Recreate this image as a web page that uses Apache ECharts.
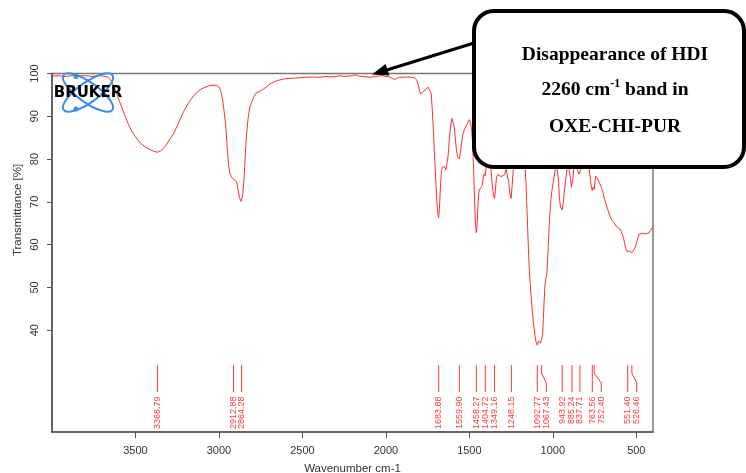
<!DOCTYPE html>
<html>
<head>
<meta charset="utf-8">
<script src="https://cdn.jsdelivr.net/npm/echarts@6/dist/echarts.min.js"></script>
<style>
  html, body { margin: 0; padding: 0; background: #ffffff; }
  #chart { width: 746px; height: 473px; }
</style>
</head>
<body>
<div id="chart"></div>
<script>
// FT-IR spectrum of OXE-CHI-PUR (wavenumber in cm-1, transmittance in %)
const wavenumbers = [
  4000, 3960, 3920, 3880, 3840, 3800, 3760, 3720, 3690, 3670, 3655, 3640, 3625, 3610, 3595, 3580,
  3560, 3540, 3520, 3500, 3470, 3440, 3410, 3390, 3369, 3350, 3330, 3316, 3295, 3270, 3240, 3210,
  3180, 3150, 3120, 3090, 3060, 3030, 3010, 2998, 2988, 2978, 2968, 2958, 2950, 2942, 2934, 2925,
  2913, 2903, 2895, 2886, 2877, 2868, 2864, 2858, 2852, 2846, 2840, 2834, 2828, 2822, 2814, 2805,
  2790, 2775, 2755, 2735, 2712, 2688, 2660, 2635, 2600, 2560, 2520, 2480, 2440, 2400, 2360, 2330,
  2300, 2275, 2250, 2225, 2200, 2180, 2165, 2140, 2115, 2095, 2070, 2045, 2020, 2000, 1980, 1962,
  1950, 1938, 1920, 1895, 1870, 1845, 1828, 1816, 1806, 1798, 1792, 1784, 1772, 1760, 1748, 1738,
  1729, 1722, 1716, 1710, 1703, 1696, 1690, 1684, 1679, 1674, 1668, 1662, 1655, 1648, 1641, 1635,
  1628, 1620, 1612, 1605, 1598, 1591, 1584, 1577, 1570, 1560, 1553, 1546, 1538, 1528, 1518, 1508,
  1500, 1492, 1486, 1480, 1474, 1468, 1463, 1458, 1453, 1448, 1443, 1437, 1430, 1423, 1416, 1410,
  1405, 1400, 1394, 1386, 1378, 1370, 1362, 1355, 1349, 1344, 1338, 1330, 1320, 1310, 1300, 1290,
  1280, 1272, 1264, 1256, 1250, 1244, 1238, 1230, 1220, 1208, 1195, 1182, 1172, 1165, 1160, 1155,
  1150, 1145, 1140, 1133, 1125, 1117, 1109, 1101, 1093, 1086, 1080, 1073, 1067, 1062, 1057, 1052,
  1047, 1041, 1036, 1030, 1024, 1018, 1012, 1005, 997, 988, 980, 973, 967, 961, 954, 948,
  944, 938, 931, 923, 915, 907, 900, 894, 889, 885, 880, 874, 866, 858, 850, 843,
  838, 832, 823, 810, 797, 785, 775, 769, 764, 760, 756, 752, 748, 743, 737, 730,
  720, 710, 700, 690, 680, 670, 660, 650, 640, 630, 620, 605, 595, 585, 577, 570,
  563, 556, 551, 545, 538, 532, 526, 519, 512, 505, 498, 490, 482, 475, 465, 455,
  445, 435, 425, 417, 410, 404, 400
];
const transmittance = [
  99.4, 99.5, 99.3, 99.5, 99.4, 99.5, 99.3, 99.5, 99.4, 99.2, 98.8, 97.9, 96.6, 95.0, 93.4, 91.9,
  89.8, 87.9, 86.4, 85.2, 83.7, 82.8, 82.2, 81.8, 81.6, 81.9, 82.6, 83.3, 84.6, 86.1, 88.6, 91.2,
  93.3, 94.9, 96.0, 96.7, 97.1, 97.3, 97.2, 96.8, 95.7, 93.9, 90.8, 87.2, 82.5, 78.5, 76.6, 75.8,
  75.3, 75.6, 74.8, 73.0, 71.0, 70.1, 70.0, 71.5, 74.0, 78.0, 82.5, 86.0, 88.6, 90.6, 92.2, 93.2,
  94.6, 95.5, 95.9, 96.3, 97.0, 97.7, 98.2, 98.5, 98.8, 98.9, 99.0, 99.1, 99.2, 99.1, 99.3, 99.2,
  99.3, 99.5, 99.3, 99.4, 99.5, 99.7, 99.4, 99.3, 99.2, 99.1, 99.3, 99.4, 99.5, 99.3, 99.2, 98.9,
  98.6, 98.8, 99.1, 99.1, 99.2, 99.1, 99.0, 98.5, 97.4, 95.8, 95.2, 95.4, 95.9, 96.4, 96.8, 96.1,
  95.4, 91.5, 87.0, 82.0, 76.5, 71.0, 67.5, 66.3, 68.5, 73.0, 76.8, 78.1, 78.4, 78.2, 77.4, 77.6,
  80.5, 84.5, 87.8, 89.5, 89.2, 87.8, 84.8, 82.0, 80.5, 80.0, 81.6, 84.0, 86.0, 87.0, 87.8, 88.6,
  89.2, 88.4, 86.5, 83.5, 77.0, 69.5, 64.8, 62.8, 65.0, 69.5, 72.3, 73.0, 73.2, 73.8, 76.0, 76.6,
  76.1, 77.8, 80.2, 81.5, 80.4, 77.5, 73.8, 71.3, 70.8, 72.8, 75.6, 76.4, 76.3, 75.9, 75.8, 76.3,
  77.6, 77.2, 74.5, 71.6, 70.8, 73.6, 77.0, 80.5, 82.5, 83.2, 82.4, 80.5, 80.0, 77.5, 74.0, 68.5,
  63.0, 57.5, 53.5, 49.5, 45.5, 42.0, 39.3, 37.3, 36.5, 37.5, 37.6, 37.0, 36.6, 38.8, 42.5, 46.8,
  50.6, 52.3, 53.0, 57.5, 62.5, 67.0, 70.3, 72.8, 74.7, 77.0, 79.3, 79.0, 75.5, 71.0, 68.8, 68.4,
  68.1, 69.6, 72.5, 75.3, 77.6, 78.8, 78.5, 75.5, 73.4, 73.1, 75.3, 78.2, 79.5, 79.2, 77.2, 76.5,
  76.4, 77.6, 79.4, 80.2, 80.0, 78.6, 75.2, 73.5, 72.6, 73.4, 73.6, 72.9, 74.6, 76.0, 76.1, 75.3,
  74.3, 73.4, 72.2, 70.6, 69.3, 68.1, 66.9, 66.0, 65.4, 64.9, 64.3, 63.9, 63.4, 62.6, 61.6, 60.4,
  59.1, 58.4, 58.2, 58.4, 58.5, 58.3, 58.1, 58.4, 58.9, 59.6, 60.5, 61.6, 62.5, 62.8, 62.6, 62.7,
  62.5, 62.6, 62.7, 63.2, 63.6, 64.0, 64.1
];

// Picked peak positions and their printed labels
const peakPositions = [
  3368.79, 2912.88, 2864.28, 1683.88, 1559.90, 1458.27, 1404.72, 1349.16, 1248.15,
  1092.77, 1067.43, 943.92, 885.24, 837.71, 763.56, 752.40, 551.40, 526.46
];
const peakLabels = [
  '3368.79', '2912.88', '2864.28', '1683.88', '1559.90', '1458.27', '1404.72', '1349.16', '1248.15',
  '1092.77', '1067.43', '943.92', '885.24', '837.71', '763.56', '752.40', '551.40', '526.46'
];

// Axis ranges and tick labels
const xMin = 400, xMax = 4000;
const yMin = 16.2, yMax = 100;
const xTickValues = [500, 1000, 1500, 2000, 2500, 3000, 3500];
const yTickValues = [40, 50, 60, 70, 80, 90, 100];

const spectrum = wavenumbers.map((w, i) => [w, transmittance[i]]);

const SANS = '"Liberation Sans", Arial, sans-serif';
const SERIF = '"Liberation Serif", "Times New Roman", serif';
const LABEL_GAP = 9;

function renderPeak(params, api) {
  const i = params.dataIndex;
  const base = api.coord([peakPositions[0], yMin])[1];
  const xs = peakPositions.map(p => api.coord([p, yMin])[0]);
  // spread crowded labels to the right
  const lx = [];
  xs.forEach((x, k) => {
    let v = x;
    if (k > 0 && v < lx[k - 1] + LABEL_GAP) v = lx[k - 1] + LABEL_GAP;
    if (v - x < 1.5) v = x;
    lx.push(v);
  });
  const x = xs[i], l = lx[i];
  const pts = (l === x)
    ? [[x, base - 67], [x, base - 40]]
    : [[x, base - 67], [x, base - 59], [l, base - 49], [l, base - 40]];
  return {
    type: 'group',
    children: [
      {
        type: 'polyline',
        shape: { points: pts },
        style: { stroke: '#ff3b3b', lineWidth: 1, fill: null }
      },
      {
        type: 'text',
        x: l,
        y: base - 35.5,
        rotation: Math.PI / 2,
        style: {
          text: peakLabels[i],
          fill: '#ff3b3b',
          fontSize: 9,
          fontFamily: SANS,
          align: 'right',
          verticalAlign: 'middle'
        }
      }
    ]
  };
}

const chart = echarts.init(document.getElementById('chart'), null, { renderer: 'canvas' });

chart.setOption({
  animation: false,
  backgroundColor: '#ffffff',
  grid: {
    left: 52, right: 93, top: 73.5, bottom: 41,
    outerBoundsMode: 'none',
    containLabel: false,
    show: true, borderColor: '#777777', borderWidth: 1.5, backgroundColor: 'transparent'
  },
  xAxis: {
    type: 'value',
    min: xMin, max: xMax,
    inverse: true,
    name: 'Wavenumber cm-1',
    nameLocation: 'middle',
    nameGap: 31,
    nameTextStyle: { fontFamily: SANS, fontSize: 11.5, color: '#333333' },
    axisLine: { show: true, lineStyle: { color: '#555555', width: 1.5 } },
    axisTick: { show: true, length: 6, customValues: xTickValues, lineStyle: { color: '#555555' } },
    axisLabel: {
      customValues: xTickValues, margin: 13, fontFamily: SANS, fontSize: 11, color: '#333333',
      formatter: v => String(v)
    },
    splitLine: { show: false }
  },
  yAxis: {
    type: 'value',
    min: yMin, max: yMax,
    axisLine: { show: true, lineStyle: { color: '#555555', width: 1.5 } },
    axisTick: { show: true, length: 5, customValues: yTickValues, lineStyle: { color: '#555555' } },
    axisLabel: {
      customValues: yTickValues, rotate: 90, margin: 12, fontFamily: SANS, fontSize: 11, color: '#333333',
      formatter: v => String(v)
    },
    splitLine: { show: false }
  },
  series: [
    {
      type: 'line',
      data: spectrum,
      showSymbol: false,
      smooth: false,
      lineStyle: { color: '#ff3030', width: 1 },
      z: 3
    },
    {
      type: 'custom',
      data: peakPositions.map(p => [p, yMin]),
      renderItem: renderPeak,
      clip: false,
      z: 3
    }
  ],
  graphic: [
    // y-axis title
    {
      type: 'text', x: 18, y: 210, rotation: Math.PI / 2, z: 50,
      style: { text: 'Transmittance [%]', fontFamily: SANS, fontSize: 11.5, fill: '#333333', align: 'center', verticalAlign: 'middle' }
    },
    // Bruker logo
    {
      type: 'ellipse', x: 88, y: 92.5, rotation: 0.62, z: 50,
      shape: { cx: 0, cy: 0, rx: 30, ry: 10 },
      style: { fill: null, stroke: '#3d8de6', lineWidth: 2 }
    },
    {
      type: 'ellipse', x: 88, y: 92.5, rotation: -0.62, z: 50,
      shape: { cx: 0, cy: 0, rx: 30, ry: 10 },
      style: { fill: null, stroke: '#3d8de6', lineWidth: 2 }
    },
    { type: 'circle', z: 51, shape: { cx: 76, cy: 76.5, r: 2.5 }, style: { fill: '#3d8de6' } },
    { type: 'circle', z: 51, shape: { cx: 76, cy: 109, r: 2.5 }, style: { fill: '#3d8de6' } },
    {
      type: 'text', x: 88, y: 93.5, z: 52,
      style: { text: 'BRUKER', fontFamily: '"DejaVu Sans", sans-serif', fontWeight: 'bold', fontSize: 15, fill: '#000000', align: 'center', verticalAlign: 'middle' }
    },
    // annotation arrow
    {
      type: 'line', z: 60,
      shape: { x1: 474, y1: 43, x2: 386, y2: 70.3 },
      style: { stroke: '#000000', lineWidth: 3 }
    },
    {
      type: 'polygon', z: 60,
      shape: { points: [[372, 74.5], [389.5, 75.5], [385.5, 64]] },
      style: { fill: '#000000' }
    },
    // annotation box
    {
      type: 'rect', z: 60,
      shape: { x: 474, y: 11, width: 270, height: 156, r: 20 },
      style: { fill: '#ffffff', stroke: '#000000', lineWidth: 4 }
    },
    {
      type: 'text', x: 615, y: 55, z: 61,
      style: { text: 'Disappearance of HDI', fontFamily: SERIF, fontWeight: 'bold', fontSize: 19.5, fill: '#000000', align: 'center', verticalAlign: 'middle' }
    },
    {
      type: 'text', x: 615, y: 90, z: 61,
      style: {
        text: '{a|2260 cm}{s|-1}{a| band in}',
        align: 'center', verticalAlign: 'middle',
        rich: {
          a: { fontFamily: SERIF, fontWeight: 'bold', fontSize: 19.5, color: '#000000', lineHeight: 24 },
          s: { fontFamily: SERIF, fontWeight: 'bold', fontSize: 12, color: '#000000', verticalAlign: 'top' }
        }
      }
    },
    {
      type: 'text', x: 615, y: 126.5, z: 61,
      style: { text: 'OXE-CHI-PUR', fontFamily: SERIF, fontWeight: 'bold', fontSize: 19.5, fill: '#000000', align: 'center', verticalAlign: 'middle' }
    }
  ]
});
</script>
</body>
</html>
